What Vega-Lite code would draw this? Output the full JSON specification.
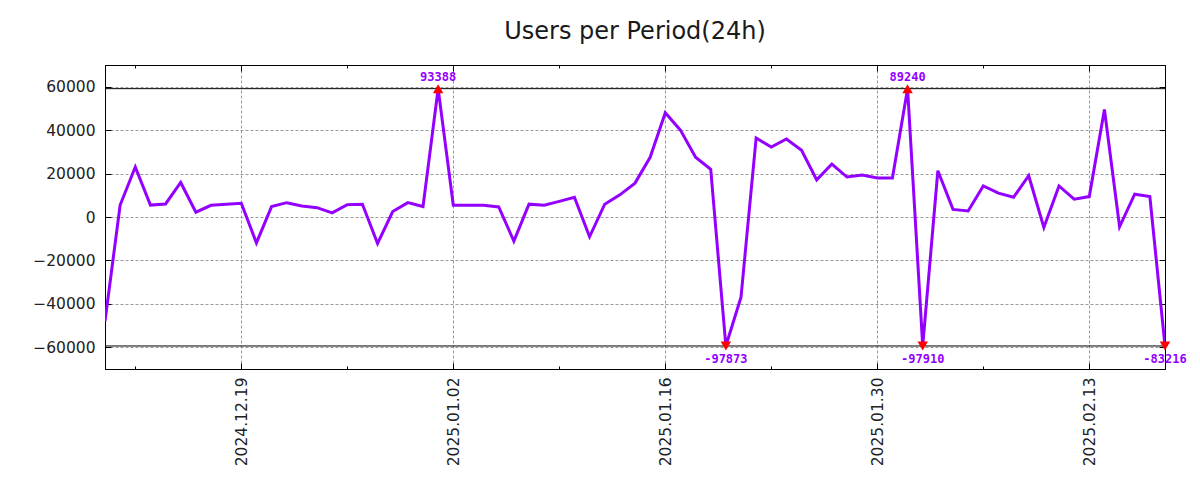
{
  "$schema": "https://vega.github.io/schema/vega-lite/v6.json",
  "width": 1060,
  "height": 304,
  "autosize": {"type": "none"},
  "padding": {"left": 105, "top": 65, "right": 35, "bottom": 131},
  "background": "white",
  "title": {"text": "Users per Period(24h)", "font": "DejaVu Sans", "fontSize": 24, "fontWeight": "normal", "color": "#1a1a1a", "anchor": "middle", "offset": 21},
  "config": {
    "view": {"stroke": "black", "strokeWidth": 1},
    "axis": {"domainColor": "black", "tickColor": "black", "labelFont": "DejaVu Sans", "labelFontSize": 15.5, "labelColor": "#222222", "title": null, "gridColor": "#999999", "gridDash": [3, 2], "gridWidth": 1}
  },
  "datasets": {
    "main": [
      {"date": "2024-12-10", "users": -48000},
      {"date": "2024-12-11", "users": 5500},
      {"date": "2024-12-12", "users": 23000},
      {"date": "2024-12-13", "users": 5500},
      {"date": "2024-12-14", "users": 6000},
      {"date": "2024-12-15", "users": 15900},
      {"date": "2024-12-16", "users": 2200},
      {"date": "2024-12-17", "users": 5400},
      {"date": "2024-12-18", "users": 5900},
      {"date": "2024-12-19", "users": 6300},
      {"date": "2024-12-20", "users": -11900},
      {"date": "2024-12-21", "users": 4800},
      {"date": "2024-12-22", "users": 6600},
      {"date": "2024-12-23", "users": 5100},
      {"date": "2024-12-24", "users": 4300},
      {"date": "2024-12-25", "users": 1900},
      {"date": "2024-12-26", "users": 5700},
      {"date": "2024-12-27", "users": 5900},
      {"date": "2024-12-28", "users": -12200},
      {"date": "2024-12-29", "users": 2500},
      {"date": "2024-12-30", "users": 6600},
      {"date": "2024-12-31", "users": 4800},
      {"date": "2025-01-01", "users": 59100, "label": "93388", "dir": "up"},
      {"date": "2025-01-02", "users": 5400},
      {"date": "2025-01-03", "users": 5400},
      {"date": "2025-01-04", "users": 5400},
      {"date": "2025-01-05", "users": 4600},
      {"date": "2025-01-06", "users": -11100},
      {"date": "2025-01-07", "users": 5900},
      {"date": "2025-01-08", "users": 5400},
      {"date": "2025-01-09", "users": 7200},
      {"date": "2025-01-10", "users": 9100},
      {"date": "2025-01-11", "users": -9100},
      {"date": "2025-01-12", "users": 5900},
      {"date": "2025-01-13", "users": 10200},
      {"date": "2025-01-14", "users": 15600},
      {"date": "2025-01-15", "users": 27500},
      {"date": "2025-01-16", "users": 48000},
      {"date": "2025-01-17", "users": 40000},
      {"date": "2025-01-18", "users": 27500},
      {"date": "2025-01-19", "users": 22000},
      {"date": "2025-01-20", "users": -59400, "label": "-97873", "dir": "down"},
      {"date": "2025-01-21", "users": -36900},
      {"date": "2025-01-22", "users": 36400},
      {"date": "2025-01-23", "users": 32200},
      {"date": "2025-01-24", "users": 35900},
      {"date": "2025-01-25", "users": 30700},
      {"date": "2025-01-26", "users": 17100},
      {"date": "2025-01-27", "users": 24400},
      {"date": "2025-01-28", "users": 18400},
      {"date": "2025-01-29", "users": 19300},
      {"date": "2025-01-30", "users": 18000},
      {"date": "2025-01-31", "users": 18000},
      {"date": "2025-02-01", "users": 59100, "label": "89240", "dir": "up"},
      {"date": "2025-02-02", "users": -59400, "label": "-97910", "dir": "down"},
      {"date": "2025-02-03", "users": 21300},
      {"date": "2025-02-04", "users": 3500},
      {"date": "2025-02-05", "users": 2800},
      {"date": "2025-02-06", "users": 14300},
      {"date": "2025-02-07", "users": 11000},
      {"date": "2025-02-08", "users": 9100},
      {"date": "2025-02-09", "users": 19000},
      {"date": "2025-02-10", "users": -4800},
      {"date": "2025-02-11", "users": 14300},
      {"date": "2025-02-12", "users": 8200},
      {"date": "2025-02-13", "users": 9400},
      {"date": "2025-02-14", "users": 49500},
      {"date": "2025-02-15", "users": -4500},
      {"date": "2025-02-16", "users": 10500},
      {"date": "2025-02-17", "users": 9400},
      {"date": "2025-02-18", "users": -59400, "label": "-83216", "dir": "down"}
    ],
    "clip": [{"limit": 59100}, {"limit": -59400}]
  },
  "layer": [
    {
      "data": {"name": "main"},
      "mark": {"type": "line", "opacity": 0},
      "encoding": {
        "x": {"field": "date", "type": "temporal",
          "scale": {"type": "utc", "domain": [{"year": 2024, "month": 12, "date": 10, "utc": true}, {"year": 2025, "month": 2, "date": 18, "utc": true}]},
          "axis": {"orient": "top", "labels": false, "grid": false,
            "values": [
              {"year": 2024, "month": 12, "date": 12, "utc": true},
              {"year": 2024, "month": 12, "date": 19, "utc": true},
              {"year": 2024, "month": 12, "date": 26, "utc": true},
              {"year": 2025, "month": 1, "date": 2, "utc": true},
              {"year": 2025, "month": 1, "date": 9, "utc": true},
              {"year": 2025, "month": 1, "date": 16, "utc": true},
              {"year": 2025, "month": 1, "date": 23, "utc": true},
              {"year": 2025, "month": 1, "date": 30, "utc": true},
              {"year": 2025, "month": 2, "date": 6, "utc": true},
              {"year": 2025, "month": 2, "date": 13, "utc": true}
            ],
            "tickSize": {"condition": {"test": "round((datum.value - utc(2024,11,19))/86400000) % 14 == 0", "value": -6}, "value": -3}}},
        "y": {"field": "users", "type": "quantitative",
          "scale": {"domain": [-70000, 70000], "nice": false, "zero": false},
          "axis": {"orient": "right", "labels": false, "grid": false, "values": [-60000, -40000, -20000, 0, 20000, 40000, 60000], "tickSize": -6}}
      }
    },
    {
      "data": {"name": "clip"},
      "mark": {"type": "rule", "color": "black", "strokeWidth": 1},
      "encoding": {
        "y": {"field": "limit", "type": "quantitative", "scale": {"domain": [-70000, 70000], "nice": false, "zero": false}, "axis": null}
      }
    },
    {
      "data": {"name": "main"},
      "mark": {"type": "line", "color": "#9400ff", "strokeWidth": 3, "clip": true},
      "encoding": {
        "x": {"field": "date", "type": "temporal",
          "scale": {"type": "utc", "domain": [{"year": 2024, "month": 12, "date": 10, "utc": true}, {"year": 2025, "month": 2, "date": 18, "utc": true}]},
          "axis": {"orient": "bottom", "grid": true, "labelAngle": 270, "labelPadding": 14,
            "values": [
              {"year": 2024, "month": 12, "date": 12, "utc": true},
              {"year": 2024, "month": 12, "date": 19, "utc": true},
              {"year": 2024, "month": 12, "date": 26, "utc": true},
              {"year": 2025, "month": 1, "date": 2, "utc": true},
              {"year": 2025, "month": 1, "date": 9, "utc": true},
              {"year": 2025, "month": 1, "date": 16, "utc": true},
              {"year": 2025, "month": 1, "date": 23, "utc": true},
              {"year": 2025, "month": 1, "date": 30, "utc": true},
              {"year": 2025, "month": 2, "date": 6, "utc": true},
              {"year": 2025, "month": 2, "date": 13, "utc": true}
            ],
            "labelExpr": "round((datum.value - utc(2024,11,19))/86400000) % 14 == 0 ? utcFormat(datum.value, '%Y.%m.%d') : ''",
            "gridOpacity": {"condition": {"test": "round((datum.value - utc(2024,11,19))/86400000) % 14 == 0", "value": 1}, "value": 0},
            "tickSize": {"condition": {"test": "round((datum.value - utc(2024,11,19))/86400000) % 14 == 0", "value": -6}, "value": -3}}},
        "y": {"field": "users", "type": "quantitative",
          "scale": {"domain": [-70000, 70000], "nice": false, "zero": false},
          "axis": {"orient": "left", "grid": true, "format": "d", "labelPadding": 16, "tickSize": -6, "values": [-60000, -40000, -20000, 0, 20000, 40000, 60000]}}
      }
    },
    {
      "data": {"name": "main"},
      "transform": [{"filter": "datum.dir != null"}],
      "mark": {"type": "point", "filled": true, "color": "#ff0000", "opacity": 1, "size": 110},
      "encoding": {
        "x": {"field": "date", "type": "temporal", "scale": {"type": "utc"}, "axis": null},
        "y": {"field": "users", "type": "quantitative", "axis": null},
        "shape": {"field": "dir", "type": "nominal", "scale": {"domain": ["up", "down"], "range": ["triangle-up", "triangle-down"]}, "legend": null}
      }
    },
    {
      "data": {"name": "main"},
      "transform": [{"filter": "datum.dir == 'up'"}],
      "mark": {"type": "text", "font": "DejaVu Sans Mono", "fontWeight": "bold", "fontSize": 12, "color": "#9400ff", "dy": -12, "baseline": "middle", "align": "center"},
      "encoding": {
        "x": {"field": "date", "type": "temporal", "scale": {"type": "utc"}, "axis": null},
        "y": {"field": "users", "type": "quantitative", "axis": null},
        "text": {"field": "label"}
      }
    },
    {
      "data": {"name": "main"},
      "transform": [{"filter": "datum.dir == 'down'"}],
      "mark": {"type": "text", "font": "DejaVu Sans Mono", "fontWeight": "bold", "fontSize": 12, "color": "#9400ff", "dy": 13, "baseline": "middle", "align": "center"},
      "encoding": {
        "x": {"field": "date", "type": "temporal", "scale": {"type": "utc"}, "axis": null},
        "y": {"field": "users", "type": "quantitative", "axis": null},
        "text": {"field": "label"}
      }
    }
  ],
  "resolve": {"axis": {"x": "independent", "y": "independent"}}
}
